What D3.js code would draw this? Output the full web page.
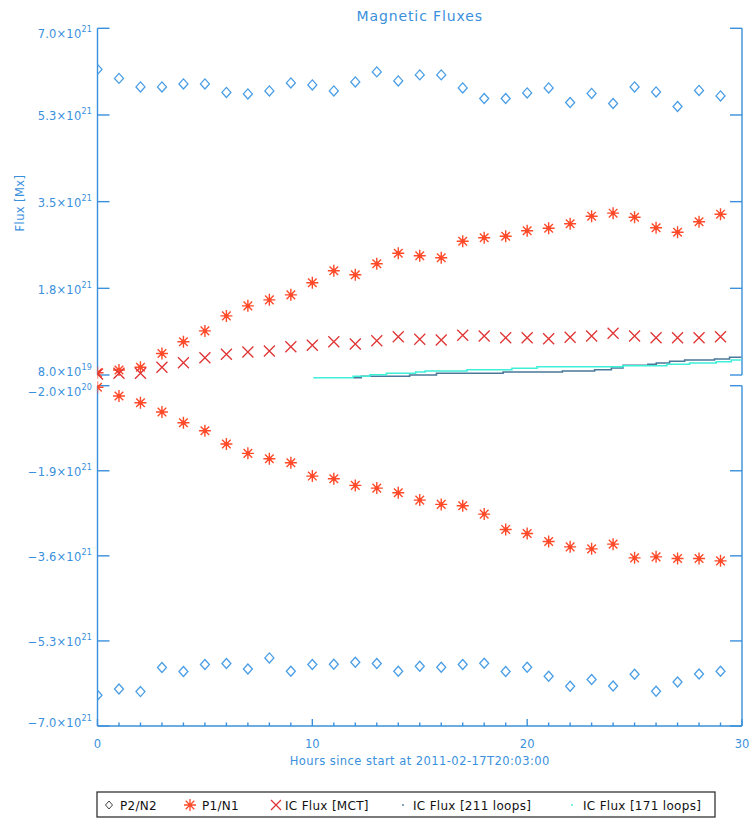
<!DOCTYPE html>
<html>
<head>
<meta charset="utf-8">
<script src="https://cdn.jsdelivr.net/npm/d3@7"></script>
<style>
  body { margin: 0; background: #fff; }
  svg text { font-family: "DejaVu Sans", "Liberation Sans", sans-serif; }
</style>
</head>
<body>
<svg id="chart" width="750" height="823"></svg>
<script>
// ---- Data (flux values in units of 1e21 Mx) ----
const hours = d3.range(0, 30); // 0..29, one point per hour
const p2Pos = [6.18, 6.00, 5.83, 5.83, 5.89, 5.89, 5.72, 5.69, 5.75, 5.91, 5.87, 5.75, 5.93, 6.13, 5.95,
               6.07, 6.07, 5.81, 5.60, 5.60, 5.71, 5.81, 5.52, 5.70, 5.50, 5.83, 5.73, 5.44, 5.76, 5.65];
const p1Pos = [0.126, 0.18, 0.234, 0.51, 0.745, 0.96, 1.26, 1.46, 1.58, 1.68, 1.92, 2.16, 2.08, 2.30, 2.51,
               2.46, 2.42, 2.75, 2.82, 2.85, 2.96, 3.01, 3.10, 3.25, 3.31, 3.23, 3.02, 2.93, 3.14, 3.29];
const icMCT = [0.10, 0.114, 0.114, 0.234, 0.326, 0.425, 0.493, 0.539, 0.559, 0.645, 0.673, 0.745, 0.699, 0.765, 0.845,
               0.793, 0.779, 0.872, 0.858, 0.825, 0.825, 0.805, 0.832, 0.858, 0.912, 0.858, 0.825, 0.825, 0.825, 0.845];
const p1Neg = [-0.232, -0.406, -0.54, -0.726, -0.94, -1.10, -1.366, -1.552, -1.66, -1.74, -2.006, -2.06, -2.192, -2.246, -2.34,
               -2.486, -2.572, -2.60, -2.766, -3.072, -3.152, -3.312, -3.42, -3.46, -3.366, -3.64, -3.62, -3.652, -3.652, -3.70];
const p2Neg = [-6.386, -6.26, -6.312, -5.832, -5.912, -5.772, -5.752, -5.86, -5.64, -5.906, -5.772, -5.766, -5.726, -5.752, -5.906,
               -5.806, -5.826, -5.772, -5.746, -5.912, -5.826, -6.006, -6.206, -6.072, -6.20, -5.966, -6.306, -6.12, -5.96, -5.906];

// Step series (start hour of each step, value)
const ic211Hours = [11.90, 12.28, 14.53, 15.78, 18.88, 21.64, 23.14, 23.92, 24.46, 25.62, 26.01, 26.63, 27.33, 28.72, 29.42, 29.97];
const ic211Vals  = [0.026, 0.054, 0.08, 0.114, 0.14, 0.16, 0.186, 0.22, 0.274, 0.294, 0.32, 0.353, 0.379, 0.399, 0.433, 0.433];
const ic171Hours = [10.04, 11.90, 12.68, 13.45, 14.81, 15.25, 17.2, 19.29, 20.46, 24.46, 26.50, 27.56, 28.80, 29.50, 29.97];
const ic171Vals  = [0.026, 0.054, 0.086, 0.114, 0.14, 0.16, 0.186, 0.214, 0.246, 0.266, 0.294, 0.32, 0.345, 0.379, 0.379];

// Axis ticks
const xTicksMajor = [0, 10, 20, 30];
const xTicksMinor = d3.range(0, 31);
const topTicks = [0.08, 1.81, 3.54, 5.27, 7.0];
const topTickMant = ["8.0", "1.8", "3.5", "5.3", "7.0"];
const topTickExp = ["19", "21", "21", "21", "21"];
const botTicks = [-0.2, -1.9, -3.6, -5.3, -7.0];
const botTickMant = ["\u22122.0", "\u22121.9", "\u22123.6", "\u22125.3", "\u22127.0"];
const botTickExp = ["20", "21", "21", "21", "21"];

const legendLabels = ["P2/N2", "P1/N1", "IC Flux [MCT]", "IC Flux [211 loops]", "IC Flux [171 loops]"];

// ---- Styles ----
const axisCol = "#3a90dc";
const diamondCol = "#4a9ee6";
const starCol = "#ff4a2a";
const xCol = "#e03434";
const c211 = "#4a7898";
const c171 = "#3ef0d8";

const svg = d3.select("#chart");
const x = d3.scaleLinear().domain([0, 30]).range([97.5, 742]);
const yTop = d3.scaleLinear().domain([0.08, 7.0]).range([375, 28.3]);
const yBot = d3.scaleLinear().domain([-7.0, -0.2]).range([726, 385.7]);

svg.append("defs").append("clipPath").attr("id", "clip")
  .append("rect").attr("x", x(0)).attr("y", 0).attr("width", x(30) - x(0)).attr("height", 823);

// Title
svg.append("text").attr("x", (x(0) + x(30)) / 2).attr("y", 21)
  .attr("text-anchor", "middle").attr("fill", axisCol)
  .attr("font-size", 14).attr("letter-spacing", 0.9).text("Magnetic Fluxes");

// Y axis label
svg.append("text").attr("transform", "translate(24,203) rotate(-90)")
  .attr("text-anchor", "middle").attr("fill", axisCol).attr("font-size", 11.5)
  .attr("letter-spacing", 0.4).text("Flux [Mx]");

// Axes frames
function yAxisPanel(scale, ticks, mant, exp) {
  const [y0, y1] = scale.range();
  const g = svg.append("g").attr("stroke", axisCol).attr("stroke-width", 1.4);
  g.append("line").attr("x1", x(0)).attr("x2", x(0)).attr("y1", y0).attr("y2", y1);
  g.append("line").attr("x1", x(30)).attr("x2", x(30)).attr("y1", y0).attr("y2", y1);
  ticks.forEach(t => {
    g.append("line").attr("x1", x(0)).attr("x2", x(0) + 12).attr("y1", scale(t)).attr("y2", scale(t));
    g.append("line").attr("x1", x(30)).attr("x2", x(30) - 12).attr("y1", scale(t)).attr("y2", scale(t));
  });
  const dom = scale.domain();
  ticks.forEach((t, i) => {
    // end labels are nudged inside the axis range, as in the original
    let off = 5.5;
    if (t === d3.max(dom)) off = 10;
    if (t === d3.min(dom)) off = 1;
    const tx = svg.append("text").attr("x", 92).attr("y", scale(t) + off)
      .attr("text-anchor", "end").attr("fill", axisCol).attr("font-size", 11.5).attr("letter-spacing", 0.2);
    tx.append("tspan").text(mant[i] + "\u00d710");
    tx.append("tspan").attr("dy", -6).attr("font-size", 8).text(exp[i]);
  });
}
yAxisPanel(yTop, topTicks, topTickMant, topTickExp);
yAxisPanel(yBot, botTicks, botTickMant, botTickExp);

// X axis (bottom of lower panel)
const gx = svg.append("g").attr("stroke", axisCol).attr("stroke-width", 1.4);
gx.append("line").attr("x1", x(0)).attr("x2", x(30)).attr("y1", yBot(-7.0)).attr("y2", yBot(-7.0));
xTicksMinor.forEach(t => {
  const len = xTicksMajor.includes(t) ? 7 : 3.5;
  gx.append("line").attr("x1", x(t)).attr("x2", x(t)).attr("y1", yBot(-7.0)).attr("y2", yBot(-7.0) - len);
});
xTicksMajor.forEach(t => {
  svg.append("text").attr("x", x(t)).attr("y", 748).attr("text-anchor", "middle")
    .attr("fill", axisCol).attr("font-size", 11.5).text(t);
});
svg.append("text").attr("x", (x(0) + x(30)) / 2).attr("y", 765).attr("text-anchor", "middle")
  .attr("fill", axisCol).attr("font-size", 11.5).attr("letter-spacing", 0.45)
  .text("Hours since start at 2011-02-17T20:03:00");

// ---- Marks ----
const plot = svg.append("g").attr("clip-path", "url(#clip)");

function diamonds(vals, yS) {
  plot.append("g").selectAll("path").data(vals).join("path")
    .attr("transform", (d, i) => `translate(${x(hours[i])},${yS(d)})`)
    .attr("d", "M0,-5L4.5,0L0,5L-4.5,0Z")
    .attr("fill", "none").attr("stroke", diamondCol).attr("stroke-width", 1.3);
}
const starPath = "M0,-6V6M-6,0H6M-4.3,-4.3L4.3,4.3M-4.3,4.3L4.3,-4.3";
function stars(vals, yS) {
  const g = plot.append("g").selectAll("g").data(vals).join("g")
    .attr("transform", (d, i) => `translate(${x(hours[i])},${yS(d)})`);
  g.append("path").attr("d", starPath).attr("stroke", starCol).attr("stroke-width", 1.4).attr("fill", "none");
  g.append("circle").attr("r", 2.2).attr("fill", starCol);
}
function crosses(vals, yS) {
  plot.append("g").selectAll("path").data(vals).join("path")
    .attr("transform", (d, i) => `translate(${x(hours[i])},${yS(d)})`)
    .attr("d", "M-5.5,-5.5L5.5,5.5M-5.5,5.5L5.5,-5.5")
    .attr("fill", "none").attr("stroke", xCol).attr("stroke-width", 1.3);
}
function steps(hs, vs, col) {
  const pts = hs.map((h, i) => [h, vs[i]]);
  plot.append("path").datum(pts)
    .attr("d", d3.line().x(d => x(d[0])).y(d => yTop(d[1])).curve(d3.curveStepAfter))
    .attr("fill", "none").attr("stroke", col).attr("stroke-width", 1.6);
}

diamonds(p2Pos, yTop);
stars(p1Pos, yTop);
crosses(icMCT, yTop);
steps(ic211Hours, ic211Vals, c211);
steps(ic171Hours, ic171Vals, c171);
diamonds(p2Neg, yBot);
stars(p1Neg, yBot);

// ---- Legend ----
const lg = svg.append("g");
lg.append("rect").attr("x", 97).attr("y", 792).attr("width", 618).attr("height", 25)
  .attr("fill", "#fff").attr("stroke", "#333").attr("stroke-width", 1.3);
const legSymX = [109, 190, 276, 403, 572];
const legTxtX = [120, 202, 285, 413, 583];
legendLabels.forEach((lab, i) => {
  lg.append("text").attr("x", legTxtX[i]).attr("y", 809.5).attr("fill", "#111")
    .attr("font-size", 12).attr("letter-spacing", 0.3).text(lab);
});
const ly = 805;
lg.append("path").attr("transform", `translate(${legSymX[0]},${ly})`).attr("d", "M0,-4L3.5,0L0,4L-3.5,0Z")
  .attr("fill", "none").attr("stroke", "#444").attr("stroke-width", 1);
lg.append("path").attr("transform", `translate(${legSymX[1]},${ly})`).attr("d", starPath)
  .attr("stroke", starCol).attr("stroke-width", 1.3).attr("fill", "none");
lg.append("path").attr("transform", `translate(${legSymX[2]},${ly})`).attr("d", "M-5,-5L5,5M-5,5L5,-5")
  .attr("stroke", xCol).attr("stroke-width", 1.3).attr("fill", "none");
lg.append("circle").attr("cx", legSymX[3]).attr("cy", ly).attr("r", 0.9).attr("fill", c211);
lg.append("circle").attr("cx", legSymX[4]).attr("cy", ly).attr("r", 0.9).attr("fill", c171);
</script>
</body>
</html>
